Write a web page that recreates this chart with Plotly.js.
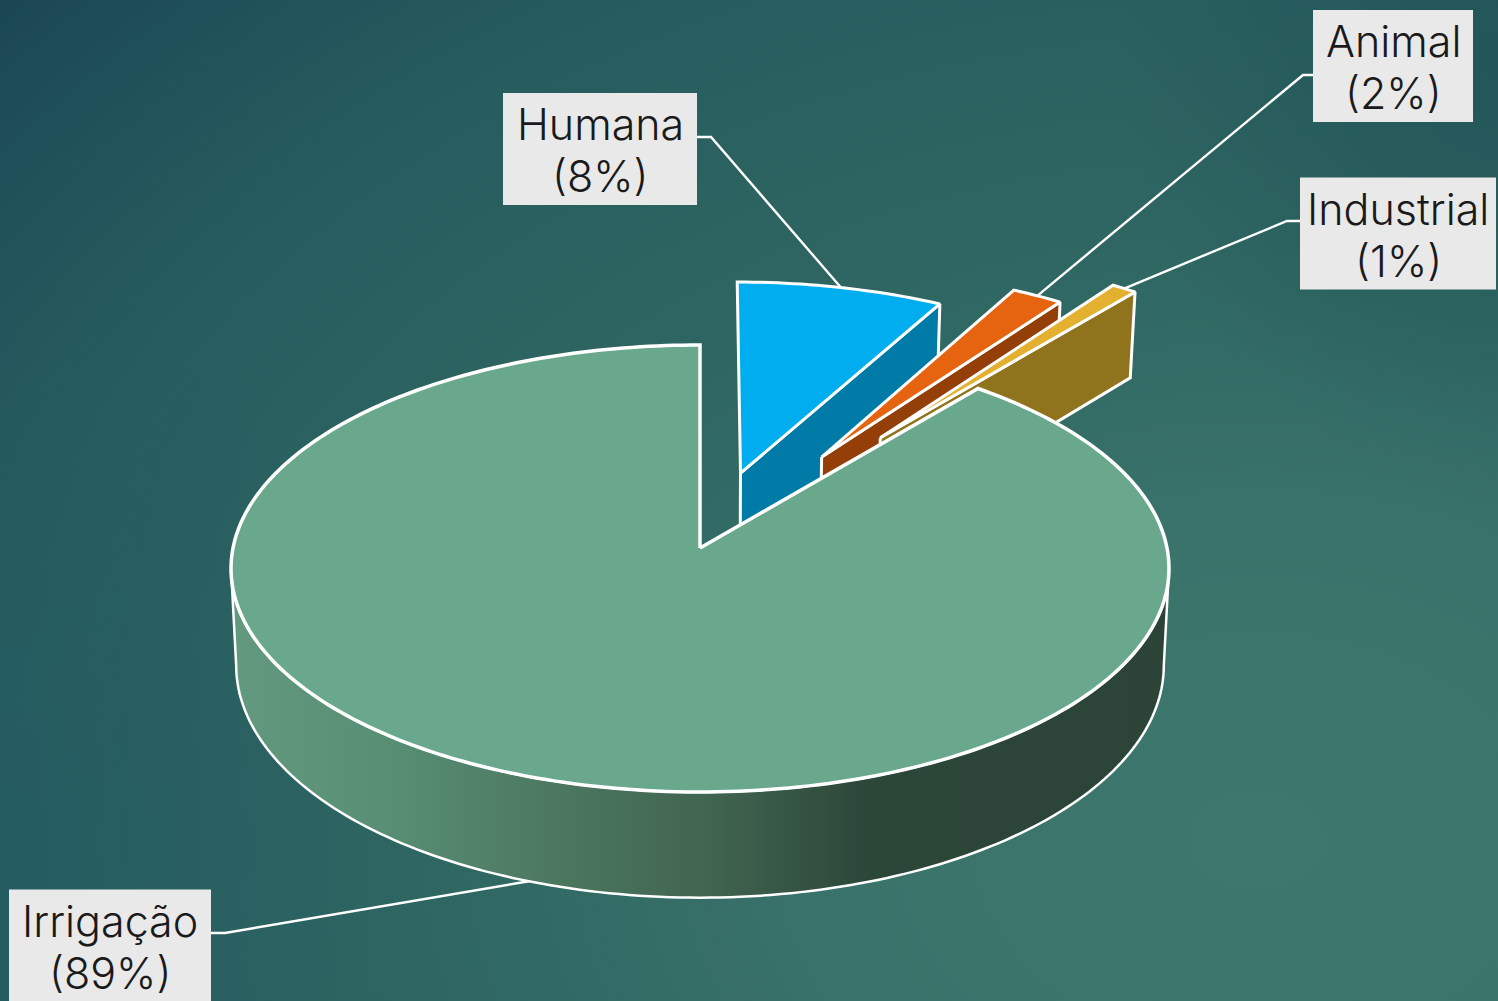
<!DOCTYPE html>
<html>
<head>
<meta charset="utf-8">
<script src="https://cdn.plot.ly/plotly-3.0.1.min.js"></script>
<style>
  html, body { margin: 0; padding: 0; width: 1498px; height: 1001px; overflow: hidden; }
  body {
    background:
      radial-gradient(ellipse 380px 420px at 100% 6%, rgba(32,82,86,0.75), rgba(32,82,86,0) 100%),
      radial-gradient(ellipse 420px 560px at 0% 85%, rgba(34,90,100,0.5), rgba(34,90,100,0) 100%),
      radial-gradient(ellipse 1650px 1200px at 84% 84%, #3e786c 0%, #39726a 28%, #306863 46%, #2c6260 62%, #265c5e 80%, #1f4f58 95%, #1a4654 104%);
  }
  #chart { width: 1498px; height: 1001px; }
</style>
</head>
<body>
<div id="chart"></div>
<script>
// Water use by sector, drawn as an exploded 3D pie.
const categories = ['Humana', 'Animal', 'Industrial', 'Irrigação'];
const percents = [8, 2, 1, 89];

// Slice styling, in the same order as the categories.
const topColors = ['#00aeef', '#e66410', '#e3b02f', '#69a88c'];
const wallColors = ['#007aa7', '#943f08', '#8f731d', '#69a88c'];
const explode = [0.36, 0.505, 0.66, 0];

// Label boxes: centre x, centre y, width, height; leader elbow; baselines of both text lines.
const boxX = [600, 1393, 1398, 110];
const boxY = [149, 66, 233.5, 945.5];
const boxW = [194, 160, 196, 202];
const boxH = [112, 112, 112, 112];
const elbowX = [711, 1303, 1287, 225];
const elbowY = [137, 75, 221, 933];
const labelOffset = 26;

// Perspective of the disc: a circle (u, v) at a given depth level projected to the axes.
const view = { cx: 700, cy: 548, a: 467, b: 221.6, k: 0.0917, depth: 96, taper: 0.011 };

function project(u, v, level) {
  const w = 1 + view.k * v;
  return {
    x: view.cx + (view.a * u / w) * (1 - view.taper * level),
    y: view.cy - view.b * v / w + view.depth * level / w
  };
}

const total = percents.reduce((s, p) => s + p, 0);
const slices = [];
let running = 0;
percents.forEach((p, i) => {
  const start = running / total * 2 * Math.PI;
  running += p;
  const end = running / total * 2 * Math.PI;
  const mid = (start + end) / 2;
  slices.push({
    start, end, mid,
    ou: explode[i] * Math.sin(mid),
    ov: explode[i] * Math.cos(mid)
  });
});

function rim(s, angle, level) {
  return project(s.ou + Math.sin(angle), s.ov + Math.cos(angle), level);
}
function hub(s, level) {
  return project(s.ou, s.ov, level);
}

function arcPoints(s, from, to, level) {
  const steps = Math.max(6, Math.ceil(Math.abs(to - from) / 0.02));
  const pts = [];
  for (let i = 0; i <= steps; i++) pts.push(rim(s, from + (to - from) * i / steps, level));
  return pts;
}

function polygon(pts, color, width, extra) {
  return Object.assign({
    type: 'scatter', mode: 'lines', fill: 'toself',
    x: pts.map(p => p.x), y: pts.map(p => p.y),
    fillcolor: color,
    line: { color: '#ffffff', width: width, simplify: false },
    hoverinfo: 'skip', showlegend: false
  }, extra || {});
}

const traces = [];

// The three small slices, back to front: cut face first, then the top face.
[0, 1, 2].forEach(i => {
  const s = slices[i];
  traces.push(polygon(
    [hub(s, 0), rim(s, s.end, 0), rim(s, s.end, 1), hub(s, 1), hub(s, 0)],
    wallColors[i], 3));
  traces.push(polygon(
    [hub(s, 0)].concat(arcPoints(s, s.start, s.end, 0), [hub(s, 0)]),
    topColors[i], 3));
});

// Large slice: shaded outer wall along the near half, then the top face.
const big = slices[3];
const sideAngle = Math.PI / 2 + Math.asin(view.k);
const wallTop = arcPoints(big, sideAngle, 2 * Math.PI - sideAngle, 0);
const wallBottom = arcPoints(big, 2 * Math.PI - sideAngle, sideAngle, 1);
traces.push(polygon(wallTop.concat(wallBottom, [wallTop[0]]), '#3d6652', 2.5, {
  fillgradient: {
    type: 'horizontal',
    start: rim(big, 2 * Math.PI - sideAngle, 0).x,
    stop: rim(big, sideAngle, 0).x,
    colorscale: [
      [0, '#63997f'], [0.18, '#578d73'], [0.34, '#4c7860'],
      [0.52, '#3f634f'], [0.68, '#2c4638'], [1, '#2b4437']
    ]
  }
}));
traces.push(polygon(
  [hub(big, 0)].concat(arcPoints(big, big.start, big.end, 0), [hub(big, 0)]),
  topColors[3], 3.5));

// Leader lines from each slice to its label box.
categories.forEach((c, i) => {
  const s = slices[i];
  const anchor = i === 3 ? rim(s, s.mid, 1) : rim(s, s.mid, 0);
  const boxEdge = boxX[i] + (anchor.x > boxX[i] ? 1 : -1) * boxW[i] / 2;
  traces.push({
    type: 'scatter', mode: 'lines',
    x: [anchor.x, elbowX[i], boxEdge],
    y: [anchor.y, elbowY[i], elbowY[i]],
    line: { color: '#ffffff', width: 2.4 },
    hoverinfo: 'skip', showlegend: false
  });
});

// Label boxes are rectangles; each label's two lines are separate text items.
const shapes = categories.map((c, i) => ({
  type: 'rect', xref: 'x', yref: 'y', layer: 'above',
  x0: boxX[i] - boxW[i] / 2, x1: boxX[i] + boxW[i] / 2,
  y0: boxY[i] - boxH[i] / 2, y1: boxY[i] + boxH[i] / 2,
  fillcolor: '#e9e9e9', line: { width: 0 }
}));

const labelFont = { family: 'Inter, sans-serif', size: 43, color: '#1a1a1a', weight: 300 };
const annotations = [];
categories.forEach((c, i) => {
  annotations.push({
    xref: 'x', yref: 'y', x: boxX[i], y: boxY[i] - labelOffset + 1,
    text: c, showarrow: false, font: labelFont
  });
  annotations.push({
    xref: 'x', yref: 'y', x: boxX[i], y: boxY[i] + labelOffset + 1,
    text: '(' + percents[i] + '%)', showarrow: false, font: labelFont
  });
});

const layout = {
  width: 1498, height: 1001,
  margin: { l: 0, r: 0, t: 0, b: 0 },
  paper_bgcolor: 'rgba(0,0,0,0)',
  plot_bgcolor: 'rgba(0,0,0,0)',
  xaxis: { range: [0, 1498], visible: false, fixedrange: true },
  yaxis: { range: [1001, 0], visible: false, fixedrange: true },
  showlegend: false,
  shapes: shapes,
  annotations: annotations
};

Plotly.newPlot('chart', traces, layout, { displayModeBar: false, staticPlot: true });
</script>
</body>
</html>
